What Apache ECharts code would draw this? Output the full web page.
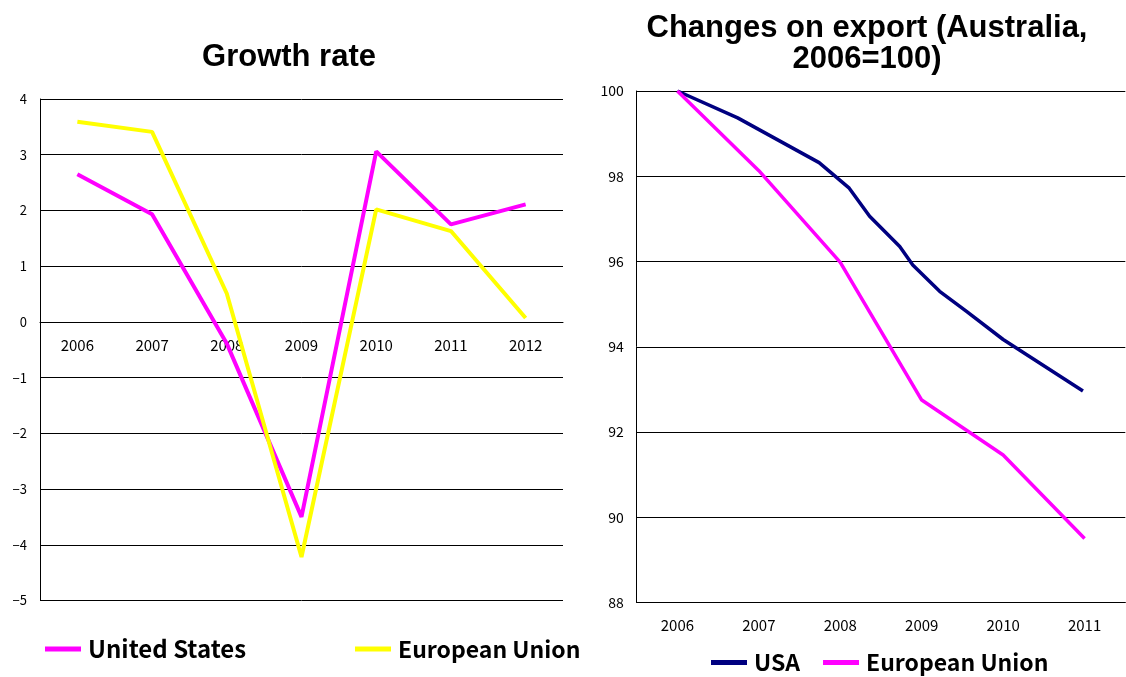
<!DOCTYPE html>
<html>
<head>
<meta charset="utf-8">
<script src="https://cdn.jsdelivr.net/npm/echarts@6/dist/echarts.min.js"></script>
<style>
  html, body { margin: 0; padding: 0; background: #fff; }
  #wrap { position: relative; width: 1126px; height: 677px; }
  #growth { position: absolute; left: 0; top: 0; width: 580px; height: 677px; }
  #export { position: absolute; left: 580px; top: 0; width: 546px; height: 677px; }
</style>
</head>
<body>
<div id="wrap">
  <div id="growth"></div>
  <div id="export"></div>
</div>
<script>
// growth rate chart
var growthYears = ["2006", "2007", "2008", "2009", "2010", "2011", "2012"];
var usGrowth = [2.65, 1.93, -0.39, -3.5, 3.06, 1.75, 2.11];
var euGrowth = [3.59, 3.41, 0.51, -4.22, 2.02, 1.63, 0.07];

// export chart (2006 = 100)
var exportYears = ["2006", "2007", "2008", "2009", "2010", "2011"];
var euExport = [100, 98.13, 95.98, 92.75, 91.46, 89.5];
// USA line has its bends between the years: [year, index]
var usaExport = [
  [2006, 100], [2006.74, 99.37], [2007.74, 98.32], [2008.11, 97.72],
  [2008.36, 97.06], [2008.73, 96.35], [2008.89, 95.92], [2009.22, 95.3],
  [2009.55, 94.83], [2010.0, 94.17], [2010.98, 92.96]
];

var labelFont = "Noto Sans CJK JP";

function minus(v) {
  return String(v).replace("-", "\u2212");
}

function legendAt(left, top, names, size, gap) {
  return {
    left: left,
    top: top,
    padding: 0,
    itemGap: gap || 10,
    itemWidth: 36,
    itemHeight: 5,
    icon: "rect",
    data: names,
    textStyle: { fontFamily: labelFont, fontSize: size, fontWeight: "bold", color: "#000", padding: [0, 0, 0, 2] }
  };
}

// left plot: y from -5 to 4, x axis moved up onto the zero line
var gTop = 99, gBottom = 76.5, gHeight = 677 - gTop - gBottom;
var zeroOffset = -gHeight * 5 / 9;

var growthChart = echarts.init(document.getElementById("growth"));
growthChart.setOption({
  animation: false,
  title: {
    text: "Growth rate",
    left: 289,
    top: 41.5,
    padding: 0,
    textAlign: "center",
    textStyle: { fontFamily: "Liberation Sans", fontSize: 31, fontWeight: "bold", color: "#000", lineHeight: 31 }
  },
  legend: [
    legendAt(45, 637, ["United States"], 24),
    legendAt(355, 637.5, ["European Union"], 23)
  ],
  grid: { left: 40, right: 17, top: gTop, bottom: gBottom },
  xAxis: {
    type: "category",
    data: growthYears,
    offset: zeroOffset,
    axisLine: { onZero: false, lineStyle: { color: "#000", width: 1 } },
    axisTick: { inside: true, length: 4, lineStyle: { color: "#000" } },
    axisLabel: { margin: 16, color: "#000", fontFamily: labelFont, fontSize: 15 }
  },
  yAxis: {
    type: "value",
    min: -5,
    max: 4,
    interval: 1,
    axisLine: { show: true, lineStyle: { color: "#000", width: 1 } },
    axisTick: { show: false },
    splitLine: { lineStyle: { color: "#000", width: 1 } },
    axisLabel: { margin: 13, color: "#000", fontFamily: labelFont, fontSize: 13, formatter: minus }
  },
  series: [
    {
      name: "United States",
      type: "line",
      data: usGrowth,
      showSymbol: false,
      color: "#ff00ff",
      lineStyle: { width: 4, color: "#ff00ff" }
    },
    {
      name: "European Union",
      type: "line",
      data: euGrowth,
      showSymbol: false,
      color: "#ffff00",
      lineStyle: { width: 4, color: "#ffff00" }
    }
  ]
});

var exportChart = echarts.init(document.getElementById("export"));
exportChart.setOption({
  animation: false,
  title: {
    text: "Changes on export (Australia,\n2006=100)",
    left: 287,
    top: 13,
    padding: 0,
    textAlign: "center",
    textStyle: { fontFamily: "Liberation Sans", fontSize: 31, fontWeight: "bold", color: "#000", lineHeight: 31 }
  },
  legend: legendAt(131, 651, ["USA", "European Union"], 23, 23),
  grid: { left: 56.7, right: 0.7, top: 91, bottom: 74.5 },
  xAxis: [
    {
      type: "category",
      data: exportYears,
      axisLine: { lineStyle: { color: "#000", width: 1 } },
      axisTick: { inside: true, length: 4, lineStyle: { color: "#000" } },
      axisLabel: { margin: 15, color: "#000", fontFamily: labelFont, fontSize: 15 }
    },
    {
      type: "value",
      min: 2005.5,
      max: 2011.5,
      show: false
    }
  ],
  yAxis: {
    type: "value",
    min: 88,
    max: 100,
    interval: 2,
    axisLine: { show: true, lineStyle: { color: "#000", width: 1 } },
    axisTick: { show: false },
    splitLine: { lineStyle: { color: "#000", width: 1 } },
    axisLabel: { margin: 13, color: "#000", fontFamily: labelFont, fontSize: 14 }
  },
  series: [
    {
      name: "USA",
      type: "line",
      xAxisIndex: 1,
      data: usaExport,
      showSymbol: false,
      color: "#000080",
      lineStyle: { width: 3.5, color: "#000080" }
    },
    {
      name: "European Union",
      type: "line",
      xAxisIndex: 0,
      data: euExport,
      showSymbol: false,
      color: "#ff00ff",
      lineStyle: { width: 3.5, color: "#ff00ff" }
    }
  ]
});
</script>
</body>
</html>
